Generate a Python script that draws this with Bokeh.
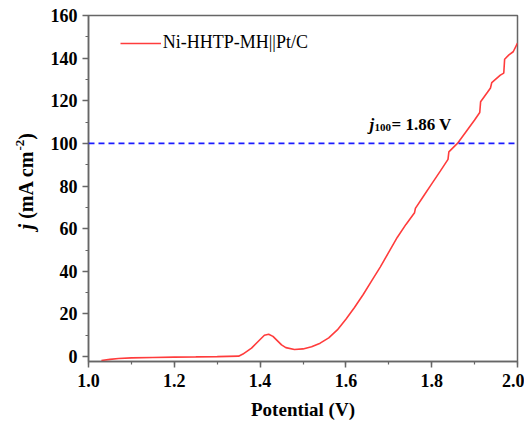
import math
from bokeh.plotting import figure
from bokeh.layouts import row
from bokeh.models import Range1d, SingleIntervalTicker, Span, Label, NumeralTickFormatter
from bokeh.embed import file_html
from bokeh.resources import INLINE

# ---- data ----
potential = [1.03, 1.05, 1.07, 1.10, 1.15, 1.20, 1.25, 1.30, 1.35, 1.36, 1.38, 1.40,
             1.41, 1.42, 1.43, 1.44, 1.45, 1.46, 1.48, 1.50, 1.52, 1.54, 1.56, 1.58,
             1.60, 1.62, 1.64, 1.66, 1.68, 1.70, 1.72, 1.74, 1.76, 1.762, 1.78, 1.80,
             1.82, 1.838, 1.84, 1.86, 1.88, 1.90, 1.912, 1.914, 1.93, 1.937, 1.94,
             1.96, 1.968, 1.97, 1.98, 1.99, 2.00]
current = [-1.8, -1.3, -0.9, -0.6, -0.4, -0.25, -0.15, 0.0, 0.2, 1.2, 4.0, 8.0,
           10.0, 10.5, 9.5, 7.5, 5.5, 4.2, 3.3, 3.6, 4.6, 6.3, 8.8, 12.5,
           17.5, 23.0, 29.0, 35.5, 42.0, 49.0, 56.0, 62.0, 67.5, 69.5, 75.0, 81.0,
           87.0, 92.5, 96.0, 100.0, 105.5, 111.0, 114.5, 119.5, 124.0, 126.0, 128.5,
           132.0, 133.0, 139.5, 141.5, 143.0, 147.0]
series_name = "Ni-HHTP-MH||Pt/C"
j_target = 100
v_target = "1.86 V"

SERIF = "Liberation Serif"
AXIS_GREY = "#666666"
LAB_W = 40
H = 425
TOP = 15
BOTTOM = 64

# ---- narrow strip holding the y-axis title (italic j + superscript) ----
# same top/bottom borders as the main plot; its ranges equal pixels from the canvas bottom
lab = figure(width=LAB_W, height=H, output_backend="svg", toolbar_location=None,
             x_axis_location=None, y_axis_location=None,
             min_border_left=0, min_border_right=0,
             min_border_top=TOP, min_border_bottom=BOTTOM,
             x_range=Range1d(0, LAB_W), y_range=Range1d(BOTTOM, H - TOP))
lab.outline_line_color = None
lab.grid.visible = False
lab.background_fill_color = "white"
lab.border_fill_color = "white"

ylab_x = 25
# (text, style, font px, x shift, centre measured from the page top)
pieces = [("j", "bold italic", 20, 0, 226.2),
          ("(mA cm", "bold", 20, 0, 184.2),
          ("-2", "bold", 13, -6, 144.7),
          (")", "bold", 20, 0, 136.0)]
for txt, style, size, dx, yc in pieces:
    lab.add_layout(Label(x=ylab_x + dx, y=H - yc, text=txt, angle=math.pi / 2,
                         text_font=SERIF, text_font_style=style,
                         text_font_size=f"{size}px", text_align="center",
                         text_baseline="middle", text_color="black"))

# ---- main plot ----
p = figure(width=524 - LAB_W, height=H, output_backend="svg", toolbar_location=None,
           x_range=Range1d(1.0, 2.0), y_range=Range1d(-2.3, 160),
           min_border_left=88 - LAB_W, min_border_right=7, min_border_top=TOP,
           min_border_bottom=BOTTOM)
p.grid.visible = False
p.background_fill_color = "white"
p.border_fill_color = "white"
p.outline_line_color = AXIS_GREY
p.outline_line_width = 1.5

p.xaxis.ticker = SingleIntervalTicker(interval=0.2, num_minor_ticks=2)
p.yaxis.ticker = SingleIntervalTicker(interval=20, num_minor_ticks=2)
p.xaxis.formatter = NumeralTickFormatter(format="0.0")
for ax in (p.xaxis, p.yaxis):
    ax.axis_line_color = AXIS_GREY
    ax.axis_line_width = 1.5
    ax.major_tick_line_color = AXIS_GREY
    ax.minor_tick_line_color = AXIS_GREY
    ax.major_tick_line_width = 1.5
    ax.minor_tick_line_width = 1.2
    ax.major_tick_in = 0
    ax.major_tick_out = 6
    ax.minor_tick_in = 0
    ax.minor_tick_out = 3
    ax.major_label_text_font = SERIF
    ax.major_label_text_font_style = "bold"
    ax.major_label_text_font_size = "18px"
    ax.major_label_text_color = "black"
p.yaxis.major_label_standoff = 5
p.xaxis.major_label_standoff = 6

p.xaxis.axis_label = "Potential (V)"
p.xaxis.axis_label_text_font = SERIF
p.xaxis.axis_label_text_font_style = "bold"
p.xaxis.axis_label_text_font_size = "19px"
p.xaxis.axis_label_text_color = "black"
p.xaxis.axis_label_standoff = 9

# reference line
p.add_layout(Span(location=j_target, dimension="width", line_color="#1a1aff",
                  line_width=1.6, line_dash="6 4"))

# curve
p.line(potential, current, line_color="#ff3c3c", line_width=1.6, legend_label=series_name)

# annotation j100 = 1.86 V
ax_x = 1.655
ax_y = 108.8
p.add_layout(Label(x=ax_x, y=ax_y, text="j", text_font=SERIF, text_font_style="bold italic",
                   text_font_size="17px", text_baseline="alphabetic", text_color="black"))
p.add_layout(Label(x=ax_x, y=ax_y, x_offset=5, y_offset=-3, text=str(j_target),
                   text_font=SERIF, text_font_style="bold", text_font_size="11px",
                   text_baseline="alphabetic", text_color="black"))
p.add_layout(Label(x=ax_x, y=ax_y, x_offset=22, text="= " + v_target, text_font=SERIF,
                   text_font_style="bold", text_font_size="17px",
                   text_baseline="alphabetic", text_color="black"))

leg = p.legend[0]
leg.border_line_color = None
leg.background_fill_alpha = 0
leg.label_text_font = SERIF
leg.label_text_font_size = "18px"
leg.label_text_color = "black"
leg.glyph_width = 41
leg.glyph_height = 20
leg.label_standoff = 2
leg.padding = 0
leg.margin = 0
leg.location = (31.7, 307.7)

layout = row(lab, p)
open("out.html", "w").write(file_html(layout, INLINE))
